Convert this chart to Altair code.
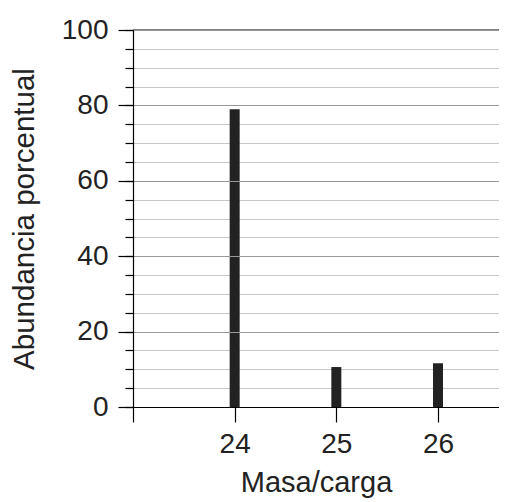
import altair as alt
import pandas as pd

masses = [24, 25, 26]
abundance = [79, 10.6, 11.6]
minor_vals = list(range(0, 101, 5))
major_vals = [0, 20, 40, 60, 80, 100]
x_ticks = [23, 24, 25, 26]

FONT = "Liberation Sans"

df = pd.DataFrame({"mass": masses, "abundance": abundance})
grid_df = pd.DataFrame({"v": minor_vals})
top_df = pd.DataFrame({"v": [100]})

yscale = alt.Scale(domain=[0, 100], nice=False, zero=True, padding=0)
xscale = alt.Scale(domain=[23, 26.6], nice=False, zero=False, padding=0)

minor = alt.Chart(grid_df).mark_rule(opacity=0).encode(
    y=alt.Y("v:Q", scale=yscale,
            axis=alt.Axis(values=minor_vals, tickSize=8, labels=False, grid=True,
                          gridColor="#c8c8c8", gridWidth=1, domain=False, title=None,
                          orient="left", ticks=True, tickColor="black", tickWidth=1.2))
)

bars = alt.Chart(df).mark_bar(color="#222222", size=10).encode(
    x=alt.X("mass:Q", scale=xscale,
            axis=alt.Axis(values=x_ticks, tickSize=15, tickColor="black", tickWidth=1.2,
                          domainColor="black", domainWidth=1.2, grid=False,
                          labelExpr="datum.value == 23 ? '' : datum.label",
                          labelFontSize=28, labelFont=FONT, labelColor="#222222",
                          labelPadding=8, title="Masa/carga", titleFontSize=29,
                          titleFont=FONT, titleFontWeight="normal", titleColor="#222222",
                          titlePadding=10, zindex=1)),
    y=alt.Y("abundance:Q", scale=yscale,
            axis=alt.Axis(values=major_vals, tickSize=15, tickColor="black", tickWidth=1.2,
                          domainColor="black", domainWidth=1.2, grid=True,
                          gridColor="#999999", gridWidth=1.2, orient="left",
                          labelFontSize=28, labelFont=FONT, labelColor="#222222",
                          labelPadding=10, title="Abundancia porcentual",
                          titleFontSize=29.5, titleFont=FONT, titleFontWeight="normal",
                          titleColor="#222222", titlePadding=22, zindex=1)),
)

top_rule = alt.Chart(top_df).mark_rule(color="black", strokeWidth=1.2).encode(
    y=alt.Y("v:Q", scale=yscale, axis=None)
)

chart = alt.layer(minor, bars, top_rule).resolve_axis(y="independent").properties(
    width=366, height=377,
    autosize=alt.AutoSizeParams(type="none"),
    padding={"left": 125, "top": 22, "right": 0, "bottom": 92},
).configure_view(stroke=None)

chart.save("out.html", embed_options={"renderer": "svg", "actions": False})
